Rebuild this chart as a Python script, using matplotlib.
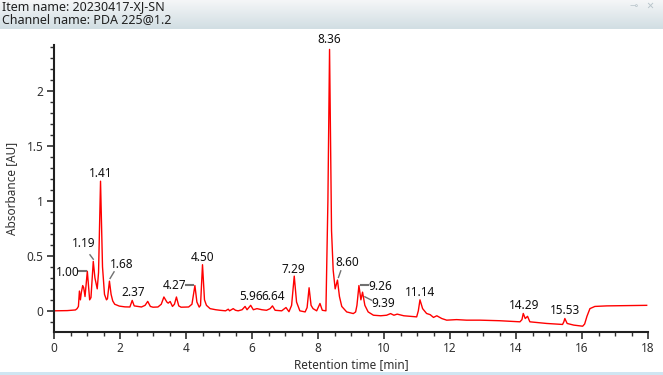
import numpy as np
import matplotlib
matplotlib.use("Agg")
import matplotlib.pyplot as plt
from matplotlib.ticker import MultipleLocator

# Chromatogramm-Daten
time_min = [0.00, 0.40, 0.65, 0.70, 0.74, 0.77, 0.80, 0.83, 0.87, 0.90, 0.94, 1.01, 1.08, 1.12,
            1.19, 1.24, 1.31, 1.35, 1.41, 1.47, 1.53, 1.59, 1.62, 1.68, 1.73, 1.78, 1.84, 1.98,
            2.15, 2.30, 2.37, 2.43, 2.53, 2.65, 2.76, 2.84, 2.92, 3.00, 3.15, 3.25, 3.33, 3.42,
            3.46, 3.52, 3.59, 3.65, 3.71, 3.78, 3.85, 4.08, 4.18, 4.27, 4.33, 4.40, 4.44, 4.50,
            4.56, 4.62, 4.73, 4.90, 5.03, 5.20, 5.28, 5.32, 5.43, 5.50, 5.58, 5.70, 5.79, 5.85,
            5.96, 6.04, 6.15, 6.30, 6.44, 6.55, 6.62, 6.70, 6.90, 7.03, 7.12, 7.20, 7.28, 7.35,
            7.45, 7.61, 7.67, 7.73, 7.79, 7.85, 7.96, 8.06, 8.13, 8.24, 8.30, 8.35, 8.41, 8.46,
            8.52, 8.59, 8.65, 8.72, 8.87, 9.07, 9.14, 9.18, 9.24, 9.30, 9.35, 9.42, 9.52, 9.68,
            9.90, 10.08, 10.20, 10.30, 10.40, 10.60, 10.80, 10.99, 11.04, 11.09, 11.17, 11.29,
            11.40, 11.50, 11.60, 11.75, 11.90, 12.20, 12.50, 12.91, 13.50, 14.12, 14.18, 14.22,
            14.28, 14.35, 14.42, 14.93, 15.41, 15.45, 15.48, 15.55, 15.75, 16.02, 16.08, 16.15,
            16.24, 16.39, 16.75, 17.96]
absorbance = [0.000, 0.002, 0.008, 0.02, 0.04, 0.18, 0.10, 0.17, 0.23, 0.21, 0.13, 0.36, 0.10, 0.12,
              0.45, 0.30, 0.20, 0.35, 1.18, 0.40, 0.15, 0.10, 0.11, 0.27, 0.15, 0.09, 0.06, 0.043,
              0.036, 0.035, 0.095, 0.045, 0.04, 0.035, 0.05, 0.086, 0.04, 0.033, 0.035, 0.06, 0.126, 0.08,
              0.07, 0.085, 0.04, 0.06, 0.126, 0.045, 0.033, 0.035, 0.06, 0.23, 0.08, 0.034, 0.05, 0.42,
              0.10, 0.05, 0.02, 0.01, 0.005, 0.000, 0.015, 0.000, 0.02, 0.005, 0.000, 0.01, 0.04, 0.01,
              0.05, 0.01, 0.02, 0.01, 0.005, 0.02, 0.045, 0.005, 0.000, 0.03, -0.008, 0.05, 0.316, 0.08,
              0.000, -0.01, 0.03, 0.21, 0.05, 0.02, 0.000, 0.067, 0.005, 0.000, 1.0, 2.38, 0.73, 0.37,
              0.20, 0.28, 0.13, 0.04, -0.01, -0.025, -0.01, 0.05, 0.23, 0.10, 0.17, 0.05, -0.01, -0.04,
              -0.045, -0.04, -0.025, -0.04, -0.03, -0.045, -0.05, -0.055, 0.0, 0.10, 0.02, -0.024,
              -0.035, -0.06, -0.045, -0.07, -0.085, -0.08, -0.085, -0.085, -0.09, -0.10, -0.08, -0.024,
              -0.07, -0.05, -0.10, -0.115, -0.124, -0.10, -0.07, -0.115, -0.13, -0.14, -0.12, -0.05,
              0.02, 0.04, 0.045, 0.05]

# Peak-Beschriftungen: Text, Textposition, optionale Hinweislinie
peak_labels = ["1.00", "1.19", "1.41", "1.68", "2.37", "4.27", "4.50", "5.96", "6.64",
               "7.29", "8.36", "8.60", "9.26", "9.39", "11.14", "14.29", "15.53"]
label_x = [0.41, 0.91, 1.42, 2.04, 2.39, 3.64, 4.50, 5.97, 6.64,
           7.26, 8.33, 8.90, 9.88, 9.97, 11.10, 14.24, 15.48]
label_y = [0.35, 0.61, 1.25, 0.425, 0.17, 0.23, 0.486, 0.128, 0.128,
           0.377, 2.47, 0.437, 0.225, 0.067, 0.164, 0.052, 0.0]
leader_lines = {
    "1.00": ((0.77, 0.96), (0.36, 0.36)),
    "1.19": ((1.09, 1.19), (0.51, 0.47)),
    "1.68": ((1.82, 1.70), (0.355, 0.295)),
    "4.27": ((3.99, 4.20), (0.237, 0.237)),
    "8.60": ((8.69, 8.62), (0.364, 0.304)),
    "9.26": ((9.30, 9.52), (0.234, 0.234)),
    "9.39": ((9.42, 9.62), (0.128, 0.097)),
}

plt.rcParams["font.family"] = ["Noto Sans", "DejaVu Sans"]

fig = plt.figure(figsize=(6.63, 3.75), dpi=100)
fig.patch.set_facecolor("white")

# Kopfzeile mit Verlauf
head = fig.add_axes([0, 1 - 29 / 375, 1, 29 / 375])
grad = np.linspace(0, 1, 50).reshape(-1, 1)
top_col = np.array([0.96, 0.965, 0.97])
bot_col = np.array([0.82, 0.87, 0.89])
img = top_col + grad[:, :, None] * (bot_col - top_col)
head.imshow(np.repeat(img, 2, axis=1), aspect="auto", extent=[0, 1, 0, 1])
head.set_xlim(0, 1)
head.set_ylim(0, 1)
head.axis("off")
head.text(2 / 663, 0.76, "Item name: 20230417-XJ-SN", fontsize=9, va="center", color="#202020")
head.text(2 / 663, 0.31, "Channel name: PDA 225@1.2", fontsize=9, va="center", color="#202020")
head.text(634 / 663, 0.78, "⊸", fontsize=7, va="center", ha="center", color="#b8c4ca", family="DejaVu Sans")
head.text(650 / 663, 0.78, "×", fontsize=9, va="center", ha="center", color="#b8c4ca")

# Untere Linie
fig.patches.append(plt.Rectangle((0, 0), 1, 3 / 375, transform=fig.transFigure,
                                 facecolor="#cfe6f2", edgecolor="none"))

ax = fig.add_axes([54 / 663, 1 - 331.7 / 375, 594 / 663, 286.7 / 375])
ax.plot(time_min, absorbance, color="#ff0000", linewidth=1.0)

ax.set_xlim(0, 18)
ax.set_ylim(-0.19, 2.42)
ax.xaxis.set_major_locator(MultipleLocator(2))
ax.xaxis.set_minor_locator(MultipleLocator(0.5))
ax.yaxis.set_major_locator(MultipleLocator(0.5))
ax.yaxis.set_minor_locator(MultipleLocator(0.1))
ax.yaxis.set_major_formatter(plt.FuncFormatter(lambda v, p: f"{v:g}"))

for s in ["top", "right"]:
    ax.spines[s].set_visible(False)
for s in ["left", "bottom"]:
    ax.spines[s].set_linewidth(1.5)
    ax.spines[s].set_color("#202020")
ax.tick_params(which="major", length=5, width=1.2, color="#303030", labelsize=8.5,
               labelcolor="#303030", pad=2.5)
ax.tick_params(which="minor", length=3, width=1.0, color="#303030")

ax.set_xlabel("Retention time [min]", fontsize=8.5, color="#303030", labelpad=2)
ax.set_ylabel("Absorbance [AU]", fontsize=8.5, color="#303030", labelpad=6)

for name, lx, ly in zip(peak_labels, label_x, label_y):
    ax.text(lx, ly, name, fontsize=8.5, ha="center", va="center", color="#101010", clip_on=False)
    if name in leader_lines:
        xs, ys = leader_lines[name]
        ax.plot(xs, ys, color="#707070", linewidth=1.5 if ys[0] == ys[1] else 1.0)

fig.savefig("out.png", dpi=100)
